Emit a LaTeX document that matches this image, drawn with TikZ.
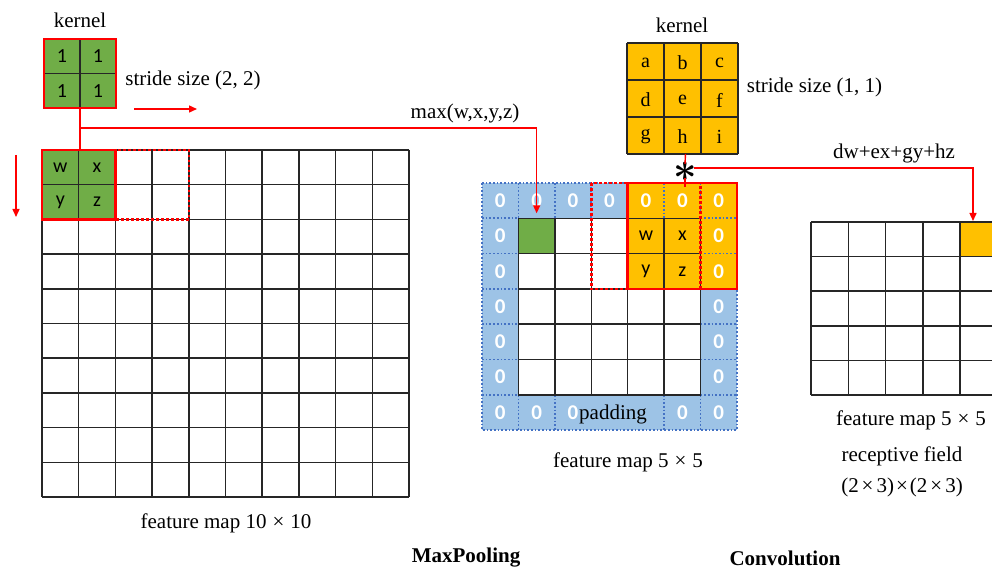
\documentclass[tikz,border=0pt]{standalone}
\usepackage{fontspec}
\setmainfont{Liberation Serif}
\newfontfamily\cellfont{Carlito}
\usetikzlibrary{arrows.meta}
\definecolor{kgreen}{HTML}{70AD47}
\definecolor{korange}{HTML}{FFC000}
\definecolor{padblue}{HTML}{9DC3E6}
\definecolor{dotblue}{HTML}{4472C4}
\definecolor{gridc}{HTML}{262626}
\begin{document}
\begin{tikzpicture}[x=1pt,y=-1pt,
  gridl/.style={draw=gridc, line width=1.5pt},
  redline/.style={draw=red, line width=1.4pt},
  redarrow/.style={redline, -{Triangle[length=8pt,width=7pt]}},
  redbox/.style={draw=red, line width=2.6pt},
  reddot/.style={draw=red, line width=2.6pt, dash pattern=on 2.6pt off 2.4pt},
  bluedot/.style={draw=dotblue, line width=1.7pt, dash pattern=on 1.7pt off 2pt},
  lbl/.style={font=\fontsize{21}{24}\selectfont, inner sep=0pt},
  blbl/.style={font=\bfseries\fontsize{21}{24}\selectfont, inner sep=0pt},
  cell/.style={font=\cellfont\fontsize{20}{22}\selectfont, inner sep=0pt},
  kcell/.style={font=\fontsize{20}{22}\selectfont, inner sep=0pt},
  zero/.style={font=\cellfont\bfseries\fontsize{21}{23}\selectfont, text=white, inner sep=0pt},
  win/.style={inner sep=0pt, outer sep=0pt},
]
\clip (0,0) rectangle (992,569);
\fill[white] (0,0) rectangle (992,569);

% ---------------- left: MaxPooling ----------------
\node[lbl] (kerL) at (80,20) {kernel};
\node[win, fill=kgreen, minimum width=72pt, minimum height=69pt] (kL) at (80,73.5) {};
\draw[gridl] (kL.north) -- (kL.south);
\draw[gridl] (kL.west) -- (kL.east);
\draw[redbox] (kL.north west) rectangle (kL.south east);
\node[cell] (k11) at (62,56) {1};
\node[cell] (k12) at (98,56) {1};
\node[cell] (k21) at (62,91) {1};
\node[cell] (k22) at (98,91) {1};
\node[lbl] (strL) at (193,80) {stride size (2, 2)};
\coordinate (sa1) at (134,109);
\coordinate (sa2) at (197,109);
\draw[redarrow] (sa1) -- (sa2);
\coordinate (da1) at (16,155);
\coordinate (da2) at (16,217);
\draw[redarrow] (da1) -- (da2);

% 10x10 grid
\fill[kgreen] (42,150) rectangle (115.4,219.4);
\foreach \i in {0,...,10} {
  \draw[gridl] (42+\i*36.7,150) -- (42+\i*36.7,497);
  \draw[gridl] (42,150+\i*34.7) -- (409,150+\i*34.7);
}
\node[win, minimum width=73.4pt, minimum height=69.4pt] (winL) at (78.7,184.7) {};
\draw[redbox] (winL.north west) rectangle (winL.south east);
\draw[reddot] (115.4,150) rectangle (188.8,219.4);
\node[cell] (lw) at (60.35,167.35) {w};
\node[cell] (lx) at (97.05,167.35) {x};
\node[cell] (ly) at (60.35,202.05) {y};
\node[cell] (lz) at (97.05,202.05) {z};
\node[lbl] (fm10) at (226,523) {feature map 10\hspace{6pt}×\hspace{6pt}10};

% ---------------- middle: padded 5x5 ----------------
\fill[padblue] (482,183) rectangle (737,430.1);
\fill[white] (518.43,218.3) rectangle (700.58,394.8);
\fill[korange] (627.72,183) rectangle (737,288.9);
\node[win, fill=kgreen, minimum width=36.43pt, minimum height=35.3pt] (gM) at (536.65,235.95) {};
\draw[bluedot] (482,183) rectangle (737,430.1);
\foreach \k in {1,...,6} {
  \draw[bluedot] (482+\k*36.43,183) -- (482+\k*36.43,218.3);
  \draw[bluedot] (482,183+\k*35.3) -- (518.43,183+\k*35.3);
  \draw[bluedot] (700.58,183+\k*35.3) -- (737,183+\k*35.3);
}
\foreach \k in {1,2,5,6} {
  \draw[bluedot] (482+\k*36.43,394.8) -- (482+\k*36.43,430.1);
}
\foreach \i in {0,...,5} {
  \draw[gridl] (518.43+\i*36.43,218.3) -- (518.43+\i*36.43,394.8);
  \draw[gridl] (518.43,218.3+\i*35.3) -- (700.58,218.3+\i*35.3);
}
\foreach \c in {0,...,6} {
  \node[zero] (zt\c) at (482+\c*36.43+18.2,200.65) {0};
}
\foreach \c in {0,1,2,5,6} {
  \node[zero] (zb\c) at (482+\c*36.43+18.2,412.45) {0};
}
\foreach \r in {1,...,5} {
  \node[zero] (zl\r) at (500.2,183+\r*35.3+17.65) {0};
  \node[zero] (zr\r) at (718.8,183+\r*35.3+17.65) {0};
}
\node[cell] (mw) at (645.9,235.95) {w};
\node[cell] (mx) at (682.4,235.95) {x};
\node[cell] (my) at (645.9,271.25) {y};
\node[cell] (mz) at (682.4,271.25) {z};
\draw[reddot] (591.29,183) rectangle (700.58,288.9);
\draw[redbox] (627.72,183) rectangle (737,288.9);
\node[lbl] (pad) at (613,414) {padding};
\node[lbl] (fm5m) at (628,462) {feature map 5\hspace{6pt}×\hspace{6pt}5};

% max connector
\node[lbl] (maxl) at (465,113) {max(w,x,y,z)};
\coordinate (jL) at (80,128);
\draw[redline] (kL.south) -- (kL.south |- winL.north);
\draw[redarrow, shorten >=5pt] (jL) -- (jL -| gM.north) -- (gM.north);

% ---------------- right: Convolution ----------------
\node[lbl] (kerR) at (682,25) {kernel};
\node[win, fill=korange, minimum width=111pt, minimum height=111pt] (kR) at (682.5,98.5) {};
\foreach \i in {0,...,3} {
  \draw[gridl] (627+\i*37,43) -- (627+\i*37,154);
  \draw[gridl] (627,43+\i*37) -- (738,43+\i*37);
}
\node[kcell] (ka) at (645.5,63) {a};
\node[kcell] (kb) at (682.5,63) {b};
\node[kcell] (kc) at (719.5,63) {c};
\node[kcell] (kd) at (645.5,100) {d};
\node[kcell] (ke) at (682.5,100) {e};
\node[kcell] (kf) at (719.5,100) {f};
\node[kcell] (kg) at (645.5,137) {g};
\node[kcell] (kh) at (682.5,137) {h};
\node[kcell] (ki) at (719.5,137) {i};
\node[lbl] (strR) at (814.5,87) {stride size (1, 1)};

\node[inner sep=0pt, font=\fontsize{24.88}{26}\selectfont\boldmath] (ast) at (685,181.5) {\smash{\scalebox{1.65}{$\ast$}}};
\coordinate (aTop) at (685,164);
\coordinate (aBot) at (685,178);
\coordinate (cTop) at (685,187);
\draw[redline] ([xshift=3pt]kR.south) -- (aTop);
\draw[redline] (aBot) -- (cTop);
\node[lbl] (dwl) at (894,153) {dw+ex+gy+hz};

% right 5x5 grid
\node[win, fill=korange, minimum width=37.3pt, minimum height=34.6pt] (oR) at (978.85,239.3) {};
\foreach \i in {0,...,5} {
  \draw[gridl] (811+\i*37.3,222) -- (811+\i*37.3,395);
  \draw[gridl] (811,222+\i*34.6) -- (997.5,222+\i*34.6);
}
\coordinate (hS) at (694,168);
\coordinate (hE) at (973,168);
\draw[redarrow, shorten >=1pt] (hS) -- (hE) -- (hE |- oR.north);

\node[lbl] (fm5r) at (911,420) {feature map 5\hspace{6pt}×\hspace{6pt}5};
\node[lbl] (rf1) at (902,456) {receptive field};
\node[lbl] (rf2) at (902,487) {(2\hspace{3pt}×\hspace{3pt}3)\hspace{2pt}×\hspace{2pt}(2\hspace{3pt}×\hspace{3pt}3)};

% captions
\node[blbl] (capM) at (466,558) {MaxPooling};
\node[blbl] (capC) at (785,558) {Convolution};
\end{tikzpicture}
\end{document}
